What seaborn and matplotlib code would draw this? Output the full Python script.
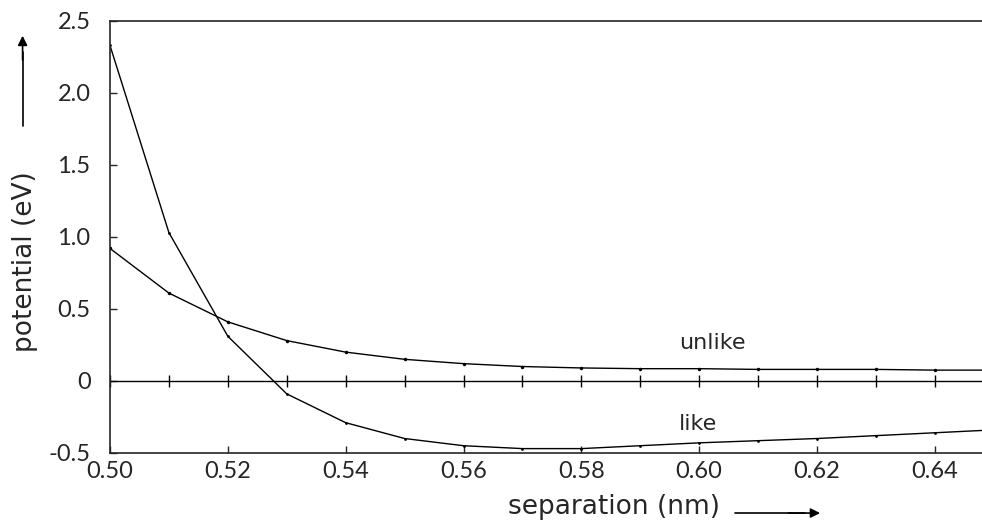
import numpy as np
import pandas as pd
import matplotlib.pyplot as plt
import seaborn as sns

# values
separation = [0.50, 0.51, 0.52, 0.53, 0.54, 0.55, 0.56, 0.57,
              0.58, 0.59, 0.60, 0.61, 0.62, 0.63, 0.64, 0.65]
unlike = [0.92, 0.61, 0.41, 0.28, 0.20, 0.15, 0.12, 0.10,
          0.09, 0.085, 0.085, 0.08, 0.08, 0.08, 0.075, 0.075]
like = [2.33, 1.03, 0.31, -0.09, -0.29, -0.40, -0.45, -0.47,
        -0.47, -0.45, -0.43, -0.415, -0.40, -0.38, -0.36, -0.34]
zero_line = [0.0] * len(separation)

x_ticks = [0.50, 0.52, 0.54, 0.56, 0.58, 0.60, 0.62, 0.64]
x_tick_labels = ["0.50", "0.52", "0.54", "0.56", "0.58", "0.60", "0.62", "0.64"]
y_ticks = [-0.5, 0, 0.5, 1.0, 1.5, 2.0, 2.5]
y_tick_labels = ["-0.5", "0", "0.5", "1.0", "1.5", "2.0", "2.5"]

sns.set_style("ticks")
plt.rcParams["font.family"] = ["Lato", "DejaVu Sans"]
label_font = ["DejaVu Sans"]

df = pd.DataFrame({"separation": separation, "unlike": unlike,
                   "like": like, "zero": zero_line})

fig = plt.figure(figsize=(9.82, 5.23), dpi=100)
ax = fig.add_axes([0.112, 0.134, 0.888, 0.826])

sns.lineplot(data=df, x="separation", y="unlike", ax=ax, color="black",
             linewidth=1.0, marker="o", markersize=2.5, markeredgewidth=0)
sns.lineplot(data=df, x="separation", y="like", ax=ax, color="black",
             linewidth=1.0, marker="o", markersize=2, markeredgewidth=0)
sns.lineplot(data=df, x="separation", y="zero", ax=ax, color="black",
             linewidth=1.0, marker="|", markersize=9, markeredgewidth=1.0,
             markeredgecolor="black")

ax.set_xlim(0.50, 0.648)
ax.set_ylim(-0.5, 2.5)
ax.set_xticks(x_ticks)
ax.set_xticklabels(x_tick_labels)
ax.set_yticks(y_ticks)
ax.set_yticklabels(y_tick_labels)
ax.tick_params(direction="in", length=5, width=1, labelsize=17)
ax.tick_params(axis="x", pad=6)
ax.tick_params(axis="y", pad=14)
ax.set_xlabel("")
ax.set_ylabel("")
for side in ["left", "bottom", "top"]:
    ax.spines[side].set_linewidth(1.2)
ax.spines["right"].set_visible(False)

ax.text(0.5966, 0.26, "unlike", fontsize=16, va="center", family=label_font)
ax.text(0.5966, -0.30, "like", fontsize=16, va="center", family=label_font)

# axis labels with arrows, as in the original
fig.text(0.517, 0.031, "separation (nm)", fontsize=19, ha="left", va="center",
         family=label_font)
fig.add_artist(plt.Line2D([0.748, 0.82], [0.019, 0.019], color="black", lw=1.2))
ax.annotate("", xy=(0.838, 0.019), xytext=(0.80, 0.019),
            xycoords="figure fraction",
            arrowprops=dict(arrowstyle="-|>", color="black", lw=1.2,
                            mutation_scale=14))
fig.text(0.025, 0.50, "potential (eV)", fontsize=19, rotation=90,
         ha="center", va="center", family=label_font)
fig.add_artist(plt.Line2D([0.023, 0.023], [0.76, 0.9], color="black", lw=1.2))
ax.annotate("", xy=(0.023, 0.937), xytext=(0.023, 0.88),
            xycoords="figure fraction",
            arrowprops=dict(arrowstyle="-|>", color="black", lw=1.2,
                            mutation_scale=14))

fig.savefig("out.png", dpi=100)
